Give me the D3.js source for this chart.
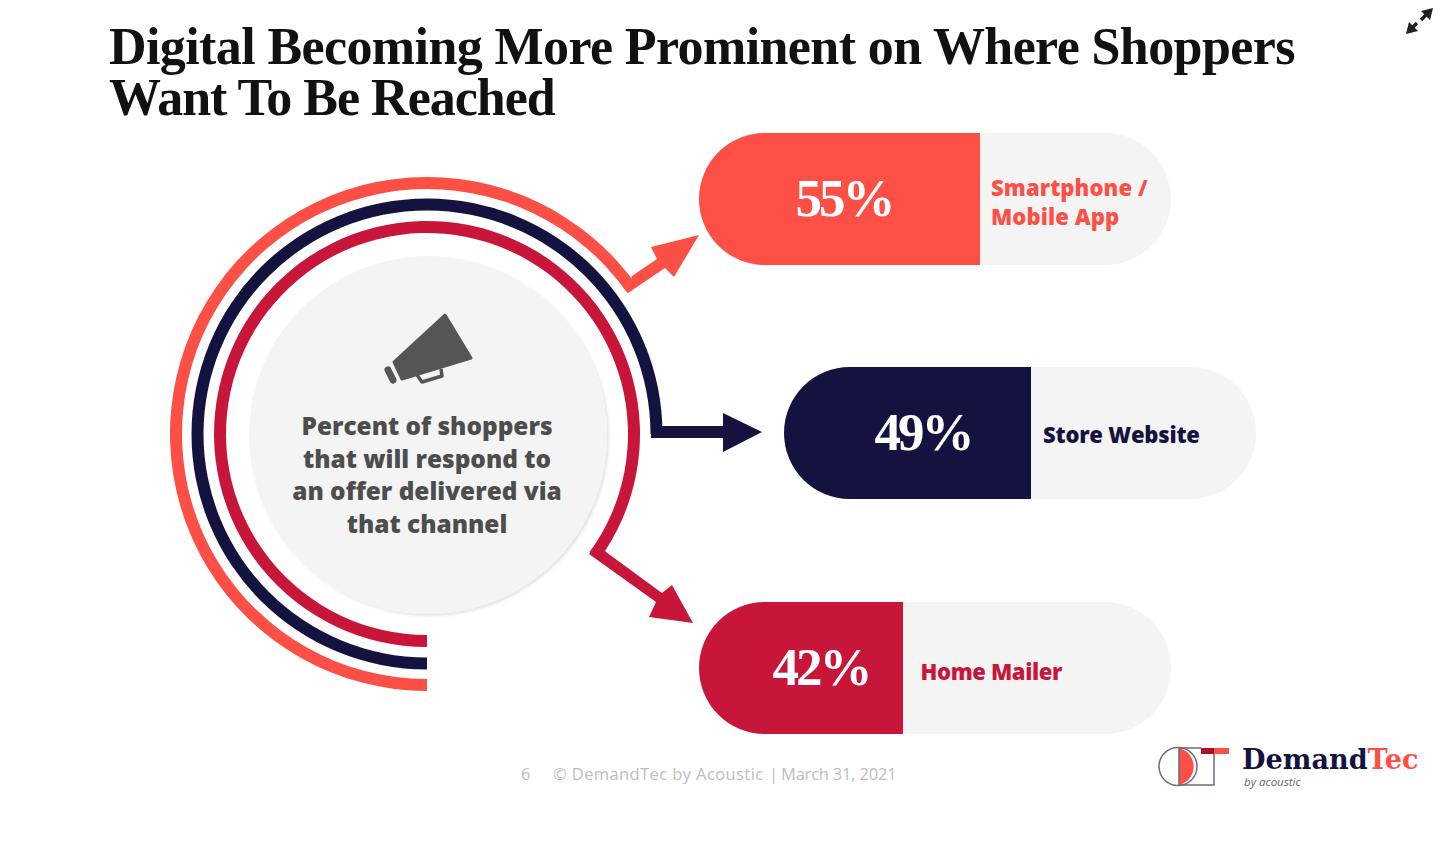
<!DOCTYPE html>
<html><head><meta charset="utf-8">
<script src="https://cdn.jsdelivr.net/npm/d3@7/dist/d3.min.js"></script>
<style>html,body{margin:0;padding:0;background:#fff}svg{display:block}</style>
</head><body><svg id="c" width="1440" height="860"></svg>
<script>
const channels = ["Smartphone / Mobile App","Store Website","Home Mailer"];
const values = [55,49,42];
const colors = ["#fc5046","#14133f","#c8163b"];
const titleLines = ["Digital Becoming More Prominent on Where Shoppers","Want To Be Reached"];
const centerLines = ["Percent of shoppers","that will respond to","an offer delivered via","that channel"];
const labelLines = [["Smartphone /","Mobile App"],["Store Website"],["Home Mailer"]];

const svg = d3.select("#c");
const defs = svg.append("defs");
const f = defs.append("filter").attr("id","sh").attr("x","-10%").attr("y","-10%").attr("width","120%").attr("height","120%");
f.append("feDropShadow").attr("dx",2).attr("dy",2).attr("stdDeviation",1.6).attr("flood-color","#000").attr("flood-opacity",.11);

const SANS = "'Open Sans','Noto Sans',sans-serif", SERIF="'Liberation Serif',serif";
svg.append("g").selectAll("text").data(titleLines).join("text")
  .attr("x",109).attr("y",(d,i)=>[64,115][i]).attr("font-family",SERIF).attr("font-weight",700)
  .attr("font-size",52).attr("letter-spacing",(d,i)=>[-0.6,-1.0][i]).attr("fill","#111").text(d=>d);

// centre
const cx=427, cy=434;
svg.append("circle").attr("cx",cx+1).attr("cy",cy+1).attr("r",179).attr("fill","#f4f4f4").attr("filter","url(#sh)");

// rings
const arcGen=d3.arc();
const ringRadius=[251,229.5,207], ringEnd=[2*Math.PI+0.958,2*Math.PI+Math.PI/2,2*Math.PI+2.2];
const ring=svg.append("g").attr("transform",`translate(${cx},${cy})`);
ring.selectAll("path").data(values).join("path").attr("fill",(d,i)=>colors[i])
  .attr("d",(d,i)=>arcGen({innerRadius:ringRadius[i]-6,outerRadius:ringRadius[i]+6,startAngle:Math.PI,endAngle:ringEnd[i]}));

// arrows: elbow + shaft + head outlines
const arrowShapes=[
 [[628,293],[665,268],[674,277],[699,235],[651,247],[657,259],[632,276]],
 [[651,438],[723,438],[723,452],[762,432],[723,413],[723,426],[662,426],[651,426]],
 [[589,554],[656,602],[649,617],[693,623],[672,585],[662,593],[606,552],[601,545]]];
svg.append("g").selectAll("path").data(arrowShapes).join("path")
  .attr("fill",(d,i)=>colors[i]).attr("d",d=>d3.line()(d)+"Z");

// pills
const widthScale=d3.scaleLinear().domain([42,49,55]).range([204,247,281]);
const pills=[{x:699,y:133},{x:784,y:367},{x:699,y:602}];
const numX=[844,923,821], labelX=[991,1043,920.5], labelSpacing=[0.1,-0.2,-0.35], labelY=[[196,225],[443],[680]];
const W=472,H=132;
values.forEach((v,i)=>{
  const p=pills[i], w=widthScale(v), r=H/2;
  svg.append("rect").attr("x",p.x).attr("y",p.y).attr("width",W).attr("height",H).attr("rx",r).attr("fill","#f4f4f4");
  svg.append("path").attr("fill",colors[i])
    .attr("d",`M${p.x+w},${p.y}H${p.x+r}A${r},${r} 0 0 0 ${p.x+r},${p.y+H}H${p.x+w}Z`);
  svg.append("text").attr("x",numX[i]).attr("y",p.y+83).attr("text-anchor","middle")
    .attr("font-family",SERIF).attr("font-weight",700).attr("font-size",53).attr("letter-spacing",-3).attr("fill","#fff").text(v+"%");
  svg.append("g").selectAll("text").data(labelLines[i]).join("text")
    .attr("x",labelX[i]).attr("y",(d,j)=>labelY[i][j])
    .attr("font-family",SANS).attr("font-weight",800).attr("font-size",22).attr("letter-spacing",labelSpacing[i]).attr("fill",colors[i]).text(d=>d);
});

// megaphone
svg.append("path").attr("fill","#555").attr("stroke","#555").attr("stroke-width",3).attr("stroke-linejoin","round")
 .attr("d","M445,315 L471,358 L402,379 L394,362 Z");
svg.append("path").attr("fill","none").attr("stroke","#555").attr("stroke-width",3.5).attr("stroke-linejoin","round")
 .attr("d","M417,375 L422,382 L442,376 L441,369");
svg.append("line").attr("x1",388).attr("y1",370).attr("x2",393).attr("y2",380).attr("stroke","#555").attr("stroke-width",7).attr("stroke-linecap","round");
svg.append("g").selectAll("text").data(centerLines).join("text")
  .attr("x",427).attr("y",(d,i)=>435+i*32.6).attr("text-anchor","middle")
  .attr("font-family",SANS).attr("font-weight",800).attr("font-size",24.4).attr("fill","#4d4d4d").text(d=>d);

// footer
const footerParts=[["6",521,0],["© DemandTec by Acoustic",553,0.4],["|",769,0],["March 31, 2021",781,-0.2]];
svg.append("g").selectAll("text").data(footerParts).join("text")
  .attr("x",d=>d[1]).attr("y",780).attr("letter-spacing",d=>d[2])
  .attr("font-family",SANS).attr("font-size",16.5).attr("fill","#bdbdbd").text(d=>d[0]);

// logo
const lg=svg.append("g");
lg.append("path").attr("fill","#fc5046").attr("d","M1179,748A19,19 0 0 1 1179,785Z");
lg.append("circle").attr("cx",1178).attr("cy",766.5).attr("r",19).attr("fill","none").attr("stroke","#6b6b78").attr("stroke-width",1.5);
lg.append("path").attr("fill","none").attr("stroke","#6b6b78").attr("stroke-width",1.5).attr("d","M1179,748V785H1214V750M1179,748H1201");
lg.append("rect").attr("x",1201).attr("y",748).attr("width",13).attr("height",6).attr("fill","#a8112e");
lg.append("rect").attr("x",1214).attr("y",748).attr("width",15).attr("height",6).attr("fill","#fc5046");
const lt=lg.append("text").attr("x",1242).attr("y",769).attr("font-family","'DejaVu Serif',serif").attr("font-weight",700).attr("font-size",27.1);
lt.append("tspan").attr("fill","#14133f").text("Demand");
lt.append("tspan").attr("fill","#fc5046").text("Tec");
lg.append("text").attr("x",1244).attr("y",786).attr("font-family",SANS).attr("font-style","italic").attr("font-size",11.5).attr("fill","#666").text("by acoustic");

// expand icon
const ic=svg.append("g").attr("fill","#222").attr("stroke","#222");
ic.append("path").attr("stroke-width",0).attr("d","M1433,8L1421,11L1430,20Z");
ic.append("path").attr("stroke-width",0).attr("d","M1406,34L1418,31L1409,22Z");
ic.append("path").attr("stroke-width",3.5).attr("d","M1427,14L1421,20M1412,28L1417,23");
</script></body></html>
